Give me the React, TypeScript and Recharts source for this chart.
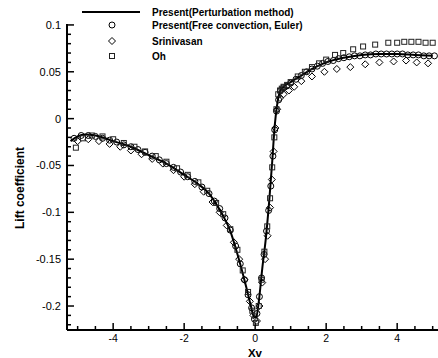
import React from "react";
import {
  ComposedChart,
  Line,
  Scatter,
  XAxis,
  YAxis,
} from "recharts";

// Present (perturbation method), solid line
const lineX = [-5.2, -5.0, -4.8, -4.5, -4.0, -3.5, -3.0, -2.5, -2.0, -1.6, -1.3, -1.1, -0.9, -0.7, -0.55, -0.4, -0.25, -0.12, -0.03, 0.03, 0.1, 0.2, 0.3, 0.4, 0.48, 0.55, 0.62, 0.7, 0.8, 1.0, 1.3, 1.6, 2.0, 2.5, 3.0, 3.5, 4.0, 4.5, 5.0];
const lineY = [-0.024, -0.019, -0.017, -0.018, -0.024, -0.03, -0.039, -0.048, -0.06, -0.07, -0.08, -0.091, -0.104, -0.12, -0.138, -0.158, -0.18, -0.2, -0.212, -0.212, -0.196, -0.16, -0.128, -0.086, -0.046, -0.008, 0.015, 0.029, 0.034, 0.039, 0.046, 0.053, 0.06, 0.065, 0.068, 0.069, 0.069, 0.068, 0.067];

// Present (free convection, Euler), circles
const eulerX = [-5.1, -4.9, -4.7, -4.5, -4.3, -4.1, -3.9, -3.7, -3.5, -3.3, -3.1, -2.9, -2.7, -2.5, -2.3, -2.1, -1.9, -1.7, -1.5, -1.3, -1.15, -1.0, -0.85, -0.7, -0.55, -0.42, -0.3, -0.2, -0.1, -0.02, 0.05, 0.12, 0.18, 0.25, 0.32, 0.38, 0.44, 0.5, 0.55, 0.6, 0.66, 0.72, 0.8, 0.9, 1.0, 1.15, 1.3, 1.45, 1.6, 1.75, 1.9, 2.05, 2.2, 2.35, 2.5, 2.65, 2.8, 2.95, 3.1, 3.25, 3.4, 3.55, 3.7, 3.85, 4.0, 4.15, 4.3, 4.45, 4.6, 4.75, 4.9, 5.05];
const eulerY = [-0.021, -0.018, -0.018, -0.019, -0.021, -0.023, -0.025, -0.028, -0.03, -0.033, -0.036, -0.04, -0.044, -0.048, -0.052, -0.057, -0.062, -0.067, -0.073, -0.08, -0.088, -0.096, -0.106, -0.119, -0.136, -0.155, -0.172, -0.188, -0.202, -0.214, -0.208, -0.19, -0.17, -0.145, -0.12, -0.098, -0.072, -0.04, -0.012, 0.008, 0.02, 0.03, 0.033, 0.035, 0.038, 0.042, 0.046, 0.05, 0.053, 0.056, 0.059, 0.061, 0.062, 0.064, 0.065, 0.066, 0.067, 0.067, 0.068, 0.068, 0.069, 0.069, 0.069, 0.069, 0.069, 0.069, 0.068, 0.068, 0.068, 0.067, 0.067, 0.067];

// Srinivasan, diamonds
const srinX = [-5.0, -4.7, -4.4, -4.1, -3.8, -3.5, -3.2, -2.9, -2.6, -2.3, -2.0, -1.7, -1.45, -1.2, -1.0, -0.8, -0.6, -0.45, -0.3, -0.15, -0.05, 0.05, 0.12, 0.2, 0.28, 0.35, 0.42, 0.47, 0.52, 0.57, 0.62, 0.7, 0.8, 0.95, 1.1, 1.3, 1.6, 1.95, 2.3, 2.68, 3.1, 3.5, 3.9, 4.25, 4.55, 4.87];
const srinY = [-0.024, -0.022, -0.024, -0.027, -0.03, -0.034, -0.038, -0.043, -0.048, -0.055, -0.062, -0.07, -0.078, -0.089, -0.1, -0.114, -0.132, -0.15, -0.172, -0.195, -0.21, -0.216, -0.2, -0.175, -0.15, -0.125, -0.095, -0.065, -0.035, -0.01, 0.01, 0.022, 0.026, 0.03, 0.034, 0.04, 0.045, 0.05, 0.053, 0.055, 0.058, 0.06, 0.061, 0.062, 0.06, 0.059];

// Oh, squares
const ohX = [-5.05, -4.85, -4.6, -4.3, -4.0, -3.7, -3.4, -3.1, -2.8, -2.5, -2.2, -1.9, -1.6, -1.35, -1.1, -0.9, -0.7, -0.5, -0.35, -0.2, -0.08, 0.02, 0.1, 0.18, 0.26, 0.34, 0.42, 0.48, 0.54, 0.6, 0.65, 0.7, 0.75, 0.8, 0.9, 1.0, 1.2, 1.4, 1.6, 1.8, 2.0, 2.25, 2.48, 2.76, 3.04, 3.38, 3.75, 4.0, 4.2, 4.4, 4.6, 4.8, 5.0];
const ohY = [-0.031, -0.021, -0.018, -0.019, -0.022, -0.026, -0.03, -0.035, -0.04, -0.046, -0.053, -0.06, -0.068, -0.077, -0.09, -0.102, -0.118, -0.14, -0.162, -0.185, -0.205, -0.218, -0.2, -0.172, -0.142, -0.115, -0.085, -0.052, -0.02, 0.01, 0.026, 0.03, 0.032, 0.034, 0.036, 0.039, 0.045, 0.05, 0.055, 0.059, 0.063, 0.068, 0.07, 0.074, 0.077, 0.079, 0.081, 0.081, 0.082, 0.082, 0.082, 0.081, 0.081];

const xMajorTicks = [-4, -2, 0, 2, 4];
const xTickLabels = ["-4", "-2", "0", "2", "4"];
const yMajorTicks = [-0.2, -0.15, -0.1, -0.05, 0, 0.05, 0.1];
const yTickLabels = ["-0.2", "-0.15", "-0.1", "-0.05", "0", "0.05", "0.1"];

const legendNames = [
  "Present(Perturbation method)",
  "Present(Free convection, Euler)",
  "Srinivasan",
  "Oh",
];

const zip = (xs: number[], ys: number[]) => xs.map((x, i) => ({ x, y: ys[i] }));
const lineData = zip(lineX, lineY);
const eulerData = zip(eulerX, eulerY);
const srinData = zip(srinX, srinY);
const ohData = zip(ohX, ohY);

const r2 = (v: number) => Math.round(v * 100) / 100;
const xTicks = Array.from({ length: 21 }, (_, i) => -5 + i * 0.5);
const yTicks = Array.from({ length: 33 }, (_, i) => r2(-0.22 + i * 0.01));

const FONT = "Arial, 'Liberation Sans', sans-serif";

const XTick = (props: any) => {
  const { x, y, payload } = props;
  const idx = xMajorTicks.indexOf(payload.value);
  const major = idx >= 0;
  return (
    <g>
      <line x1={x} x2={x} y1={y} y2={y - (major ? 7 : 4)} stroke="#000" strokeWidth={1.5} />
      {major && (
        <text x={x} y={y + 12} textAnchor="middle" fontSize={10.5} fontFamily={FONT} fill="#000">
          {xTickLabels[idx]}
        </text>
      )}
    </g>
  );
};

const YTick = (props: any) => {
  const { x, y, payload } = props;
  const idx = yMajorTicks.indexOf(r2(payload.value));
  const major = idx >= 0;
  return (
    <g>
      <line x1={x} x2={x + (major ? 7 : 4)} y1={y} y2={y} stroke="#000" strokeWidth={1.5} />
      {major && (
        <text x={x - 6} y={y + 4} textAnchor="end" fontSize={11} fontFamily={FONT} fill="#000">
          {yTickLabels[idx]}
        </text>
      )}
    </g>
  );
};

const circleShape = (p: any) => (
  <circle cx={p.cx} cy={p.cy} r={3} fill="none" stroke="#000" strokeWidth={1} />
);
const diamondShape = (p: any) => (
  <path
    d={`M${p.cx},${p.cy - 3.5}L${p.cx + 3.5},${p.cy}L${p.cx},${p.cy + 3.5}L${p.cx - 3.5},${p.cy}Z`}
    fill="none"
    stroke="#000"
    strokeWidth={1}
  />
);
const squareShape = (p: any) => (
  <rect x={p.cx - 2.5} y={p.cy - 2.5} width={5} height={5} fill="none" stroke="#222" strokeWidth={1} />
);

// legend drawn on top of the chart, like the original figure
const LegendBox = () => {
  const rows = [12, 25, 41, 56];
  return (
    <svg width={438} height={66} style={{ position: "absolute", left: 0, top: 0 }}>
      <line x1={82} x2={140} y1={rows[0]} y2={rows[0]} stroke="#000" strokeWidth={2} />
      {circleShape({ cx: 112, cy: rows[1] })}
      {diamondShape({ cx: 112, cy: rows[2] })}
      {squareShape({ cx: 112, cy: rows[3] })}
      {legendNames.map((name, i) => (
        <text key={name} x={152} y={rows[i] + 4} fontSize={10} fontWeight="bold" fontFamily={FONT} fill="#000">
          {name}
        </text>
      ))}
    </svg>
  );
};

export default function App() {
  return (
    <div style={{ position: "fixed", left: 0, top: 0, width: 438, height: 358, background: "#fff" }}>
      <ComposedChart width={438} height={358} margin={{ top: 24, right: 0, bottom: 0, left: 0 }}>
        <XAxis
          type="number"
          dataKey="x"
          domain={[-5.3, 5.15]}
          allowDataOverflow
          ticks={xTicks}
          interval={0}
          tickSize={0}
          tickMargin={0}
          tick={<XTick />}
          height={28}
          axisLine={{ stroke: "#000", strokeWidth: 2 }}
          label={{
            content: () => (
              <text x={255} y={357} textAnchor="middle" fontSize={11.5} fontWeight="bold" fontFamily={FONT} fill="#000">
                Xv
              </text>
            ),
          }}
        />
        <YAxis
          type="number"
          dataKey="y"
          domain={[-0.2256, 0.101]}
          allowDataOverflow
          ticks={yTicks}
          interval={0}
          tickSize={0}
          tickMargin={0}
          tick={<YTick />}
          width={67}
          axisLine={{ stroke: "#000", strokeWidth: 2 }}
          label={{
            content: () => (
              <text
                x={24}
                y={188}
                transform="rotate(-90 24 188)"
                textAnchor="middle"
                fontSize={12}
                fontWeight="bold"
                fontFamily={FONT}
                fill="#000"
              >
                Lift coefficient
              </text>
            ),
          }}
        />
        <Scatter name={legendNames[1]} data={eulerData} dataKey="y" shape={circleShape} isAnimationActive={false} />
        <Scatter name={legendNames[2]} data={srinData} dataKey="y" shape={diamondShape} isAnimationActive={false} />
        <Scatter name={legendNames[3]} data={ohData} dataKey="y" shape={squareShape} isAnimationActive={false} />
        <Line
          name={legendNames[0]}
          data={lineData}
          dataKey="y"
          type="monotone"
          stroke="#000"
          strokeWidth={2}
          dot={false}
          isAnimationActive={false}
        />
      </ComposedChart>
      <LegendBox />
    </div>
  );
}
